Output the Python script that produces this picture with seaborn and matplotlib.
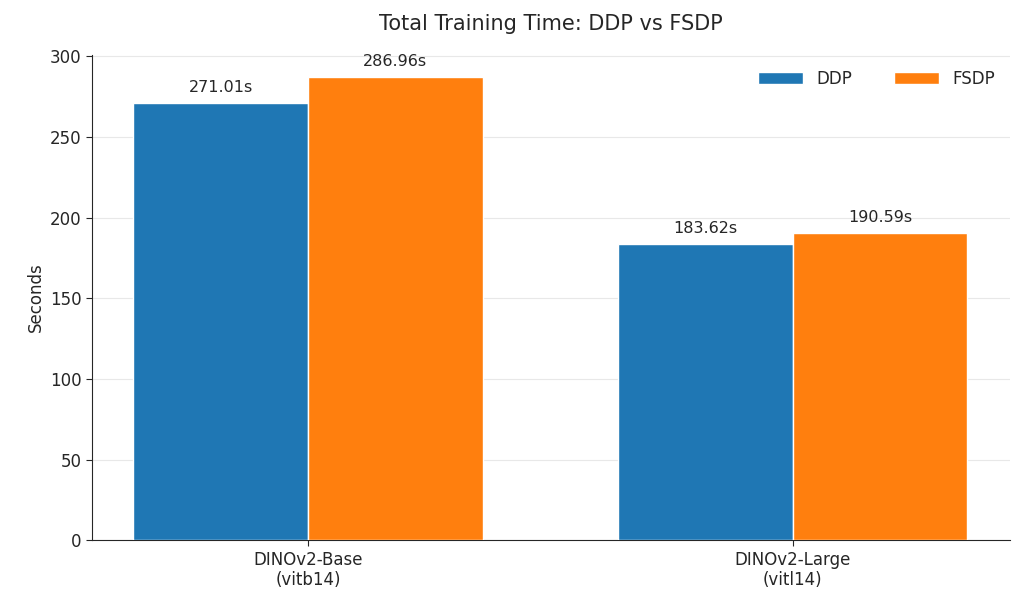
import pandas as pd
import seaborn as sns
import matplotlib.pyplot as plt

models = ['DINOv2-Base\n(vitb14)', 'DINOv2-Large\n(vitl14)']
ddp_times = [271.01, 183.62]
fsdp_times = [286.96, 190.59]

df = pd.DataFrame({
    'model': models * 2,
    'method': ['DDP'] * 2 + ['FSDP'] * 2,
    'seconds': ddp_times + fsdp_times,
})

sns.set_style('white')
fig, ax = plt.subplots(figsize=(10.24, 6.09), dpi=100)
sns.barplot(data=df, x='model', y='seconds', hue='method',
            palette=['#1f77b4', '#ff7f0e'], width=0.72, saturation=1,
            ax=ax, zorder=3)

for cont in ax.containers:
    ax.bar_label(cont, fmt='%.2fs', padding=6, fontsize=11.5)

ax.set_xlim(-0.445, 1.447)
ax.set_ylim(0, 301)
ax.yaxis.grid(True, color='#e8e8e8', zorder=0)
ax.set_axisbelow(True)
ax.set_xlabel('')
ax.set_ylabel('Seconds', fontsize=12)
ax.set_title('Total Training Time: DDP vs FSDP', fontsize=15, pad=18)
ax.tick_params(axis='both', labelsize=12, left=True, bottom=True, length=4)
sns.despine(ax=ax)
ax.legend(frameon=False, ncol=2, fontsize=12, loc='upper right',
          handlelength=2.7, columnspacing=2.5)

plt.subplots_adjust(left=0.09, right=0.986, top=0.91, bottom=0.113)
fig.savefig('out.png', dpi=100)
